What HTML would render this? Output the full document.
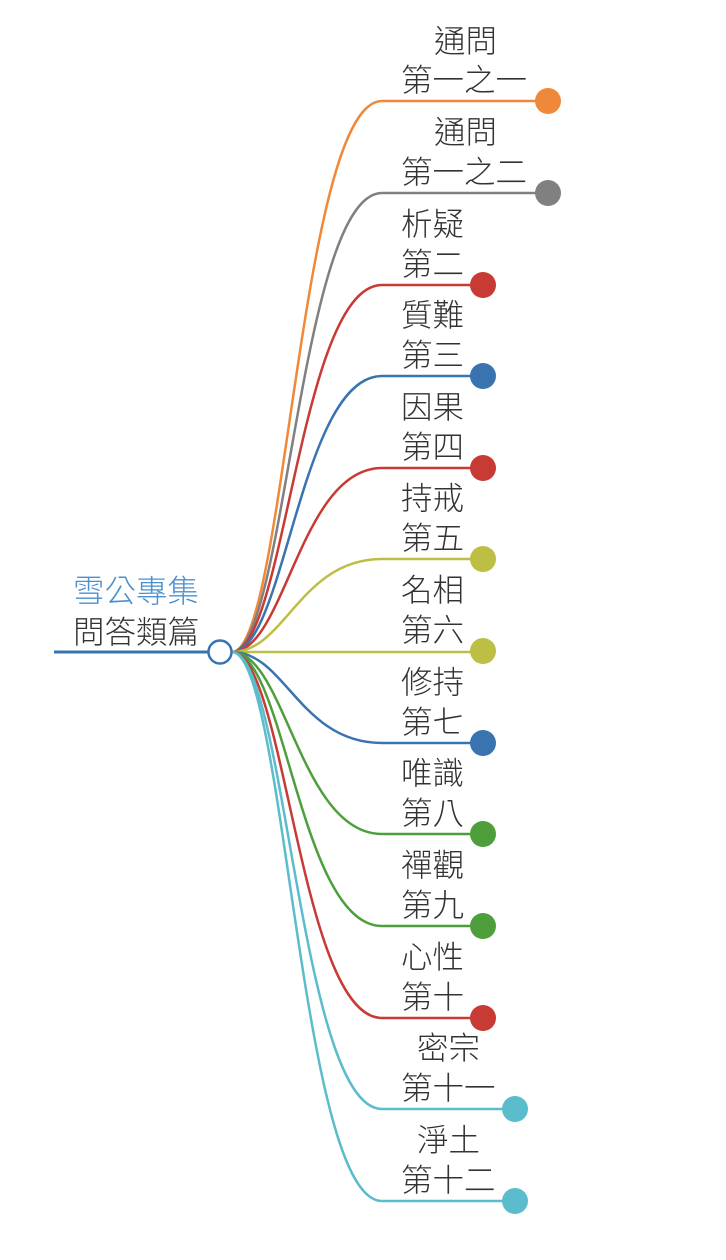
<!DOCTYPE html>
<html><head><meta charset="utf-8"><style>
html,body{margin:0;padding:0;background:#fff;width:726px;height:1260px;overflow:hidden}
text{font-family:"Liberation Sans","Noto Sans CJK TC",sans-serif;font-weight:300;font-size:31.5px;fill:#333}
</style></head><body>
<svg width="726" height="1260" xmlns="http://www.w3.org/2000/svg">
<g fill="none" stroke-width="2.5">
<path d="M232,652 C285,652 300,101 382,101 H548" stroke="#f0883a"/>
<path d="M232,652 C285,652 300,193 382,193 H548" stroke="#808080"/>
<path d="M232,652 C285,652 300,285 382,285 H483" stroke="#c83a34"/>
<path d="M232,652 C285,652 300,376 382,376 H483" stroke="#3a74b0"/>
<path d="M232,652 C285,652 300,468 382,468 H483" stroke="#c83a34"/>
<path d="M232,652 C285,652 300,559 382,559 H483" stroke="#bcbf44"/>
<path d="M232,652 H483" stroke="#bcbf44"/>
<path d="M232,652 C285,652 300,743 382,743 H483" stroke="#3a74b0"/>
<path d="M232,652 C285,652 300,834 382,834 H483" stroke="#4e9e3c"/>
<path d="M232,652 C285,652 300,926 382,926 H483" stroke="#4e9e3c"/>
<path d="M232,652 C285,652 300,1018 382,1018 H483" stroke="#c83a34"/>
<path d="M232,652 C285,652 300,1109 382,1109 H515" stroke="#5bbccc"/>
<path d="M232,652 C285,652 300,1201 382,1201 H515" stroke="#5bbccc"/>
<path d="M54,652 H208" stroke="#3a74b0" stroke-width="3"/>
</g>
<circle cx="220" cy="652" r="11.5" fill="#fff" stroke="#3a74b0" stroke-width="2.5"/>
<circle cx="548" cy="101" r="13" fill="#f0883a"/>
<circle cx="548" cy="193" r="13" fill="#808080"/>
<circle cx="483" cy="285" r="13" fill="#c83a34"/>
<circle cx="483" cy="376" r="13" fill="#3a74b0"/>
<circle cx="483" cy="468" r="13" fill="#c83a34"/>
<circle cx="483" cy="559" r="13" fill="#bcbf44"/>
<circle cx="483" cy="651" r="13" fill="#bcbf44"/>
<circle cx="483" cy="743" r="13" fill="#3a74b0"/>
<circle cx="483" cy="834" r="13" fill="#4e9e3c"/>
<circle cx="483" cy="926" r="13" fill="#4e9e3c"/>
<circle cx="483" cy="1018" r="13" fill="#c83a34"/>
<circle cx="515" cy="1109" r="13" fill="#5bbccc"/>
<circle cx="515" cy="1201" r="13" fill="#5bbccc"/>
<text x="73" y="602" style="fill:#4a90d0">雪公專集</text>
<text x="73" y="643">問答類篇</text>
<text x="434" y="52">通問</text><text x="401" y="91">第一之一</text>
<text x="434" y="143">通問</text><text x="401" y="183">第一之二</text>
<text x="401" y="235">析疑</text><text x="401" y="275">第二</text>
<text x="401" y="326">質難</text><text x="401" y="366">第三</text>
<text x="401" y="418">因果</text><text x="401" y="458">第四</text>
<text x="401" y="509">持戒</text><text x="401" y="549">第五</text>
<text x="401" y="601">名相</text><text x="401" y="641">第六</text>
<text x="401" y="693">修持</text><text x="401" y="733">第七</text>
<text x="401" y="784">唯識</text><text x="401" y="824">第八</text>
<text x="401" y="876">禪觀</text><text x="401" y="916">第九</text>
<text x="401" y="968">心性</text><text x="401" y="1008">第十</text>
<text x="417" y="1059">密宗</text><text x="401" y="1099">第十一</text>
<text x="417" y="1151">淨土</text><text x="401" y="1191">第十二</text>
</svg>
</body></html>
